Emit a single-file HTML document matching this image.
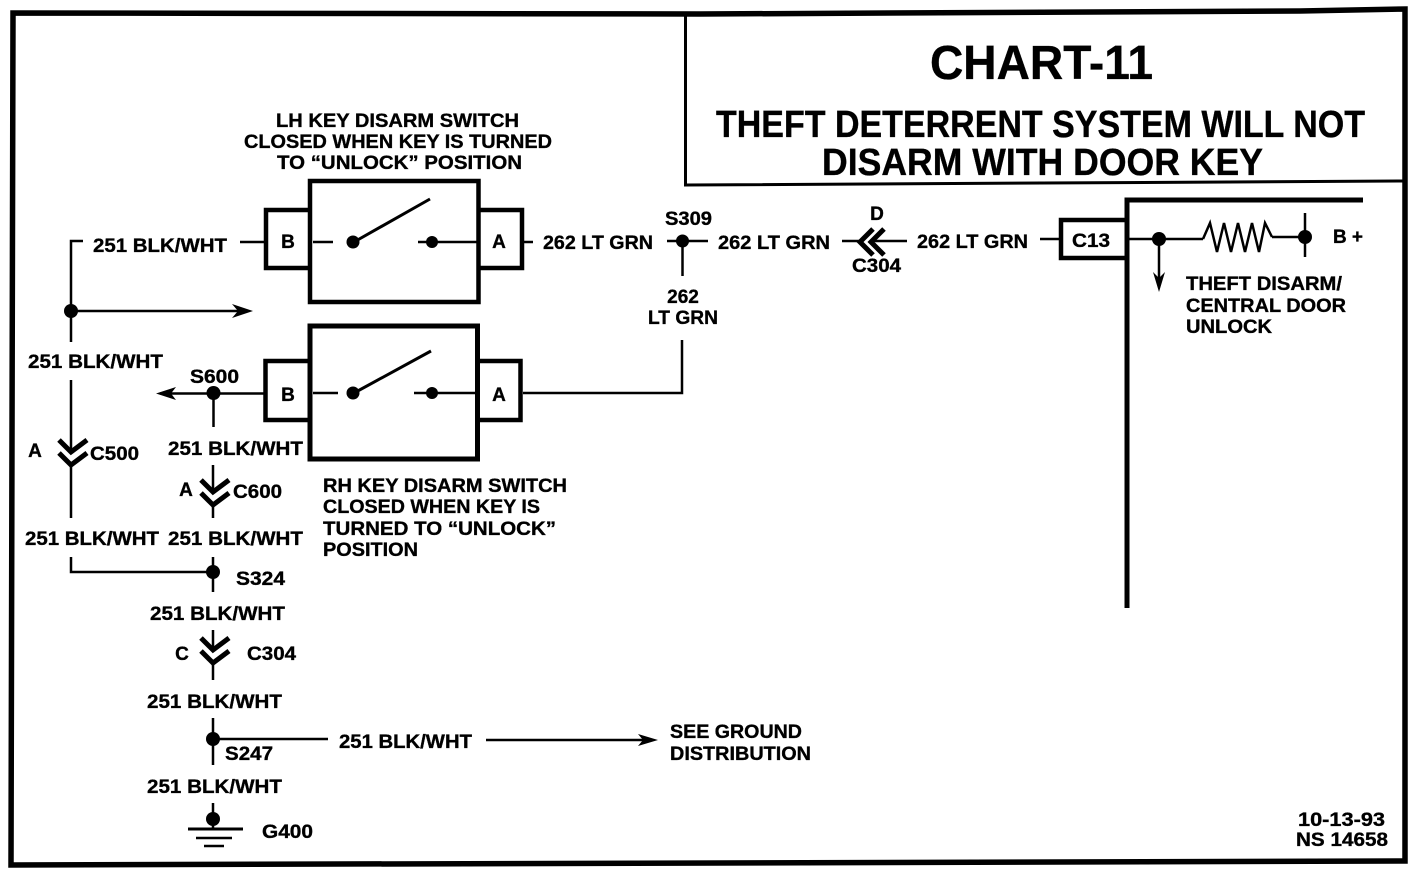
<!DOCTYPE html>
<html>
<head>
<meta charset="utf-8">
<style>
html,body{margin:0;padding:0;background:#fff;}
svg{display:block;}
text{font-family:"Liberation Sans",sans-serif;font-weight:bold;fill:#000;stroke:#000;stroke-width:.35px;font-size:19px;}
.m{text-anchor:middle;}
</style>
</head>
<body>
<svg width="1424" height="874" viewBox="0 0 1424 874" xmlns="http://www.w3.org/2000/svg">
<g fill="none" stroke="#000">
<path d="M13 13L700 14L1300 11L1405 9L1405 861L11 865Z" stroke-width="5.5"/>
<path d="M685.5 14V185L1405 181" stroke-width="3"/>
<!-- switches -->
<rect x="310" y="181" width="168.5" height="121" stroke-width="4.5"/>
<path d="M310 210H266V268H310M478 210H522V268H478" stroke-width="4.5"/>
<rect x="310" y="326" width="167.5" height="133" stroke-width="5"/>
<path d="M310 361H265.5V420H310M478 361H520.5V420H478" stroke-width="4.5"/>
<path d="M1127 220H1061V258H1127" stroke-width="4.5"/>
<path d="M1127 608V200H1363" stroke-width="5"/>
<g stroke-width="2.5">
<path d="M313 242H333M418 242H477"/>
<path d="M313 393H338M414 393H476"/>
<path d="M83 241H71V342M71 380V452M71 465V518M71 557V572H213M71 311H238"/>
<path d="M240 242H265M524 242H533M667 241H708M682.5 241V276M523 393H682V340"/>
<path d="M842 241H860M871 241H907M1040 239H1061M1129 239H1203M1272 237H1305"/>
<path d="M160 393.500H265M213.500 393V427M213 465V492M213 505V518M213 557V592M213 630V650M213 663V680M213 718V765M213 739H328M486 740H645M320 739H328"/>
<path d="M1159 239V280"/>
<path d="M1203 239L1210 223L1217 252L1224 223L1231 252L1238 223L1245 252L1252 223L1259 252L1265 223L1272 237"/>
<path d="M1305 213V257"/>
<path d="M213 803V828"/>
</g>
<path d="M354 242L430 199M354 393L431 351" stroke-width="3"/>
<path d="M188 829H243" stroke-width="3"/>
<path d="M196 838H232" stroke-width="2.500"/>
<path d="M204 846H224" stroke-width="2.500"/>
<g stroke-width="5">
<path d="M59 440L71 452L87 440M59 453L71 465L87 453"/>
<path d="M201 480L213 492L229 480M201 493L213 505L229 493"/>
<path d="M201 638L213 650L229 638M201 651L213 663L229 651"/>
<path d="M873 229L860 242L873 255M884 229L871 242L884 255"/>
</g>
</g>
<g fill="#000">
<circle cx="353" cy="242" r="6.500"/><circle cx="432" cy="242" r="6"/>
<circle cx="353" cy="393" r="6.500"/><circle cx="432" cy="393" r="6"/>
<circle cx="71" cy="311" r="7"/><circle cx="213.500" cy="393" r="7"/>
<circle cx="682.500" cy="241" r="6.500"/><circle cx="1159" cy="239" r="7"/>
<circle cx="1305" cy="237" r="7"/><circle cx="213" cy="572" r="7"/>
<circle cx="213" cy="739" r="7"/><circle cx="213" cy="819" r="7"/>
<path d="M253 311L232 304L238 311L232 318Z"/>
<path d="M156 393.500L176 387L171 393.500L176 400Z"/>
<path d="M1159 292L1153 272L1159 278L1165 272Z"/>
<path d="M658 740L638 734L643 740L638 746Z"/>
</g>
<text x="930" y="79" style="font-size:48px" textLength="223" lengthAdjust="spacingAndGlyphs">CHART-11</text>
<text x="716" y="137" style="font-size:38px" textLength="649" lengthAdjust="spacingAndGlyphs">THEFT DETERRENT SYSTEM WILL NOT</text>
<text x="822" y="175" style="font-size:38px" textLength="441" lengthAdjust="spacingAndGlyphs">DISARM WITH DOOR KEY</text>
<text x="276" y="127" textLength="243" lengthAdjust="spacingAndGlyphs">LH KEY DISARM SWITCH</text>
<text x="244" y="148" textLength="308" lengthAdjust="spacingAndGlyphs">CLOSED WHEN KEY IS TURNED</text>
<text x="277" y="169" textLength="245" lengthAdjust="spacingAndGlyphs">TO “UNLOCK” POSITION</text>
<text x="288" y="248" class="m">B</text><text x="499" y="248" class="m">A</text>
<text x="288" y="401" class="m">B</text><text x="499" y="401" class="m">A</text>
<text x="1072" y="247" textLength="38" lengthAdjust="spacingAndGlyphs">C13</text>
<text x="93" y="252" textLength="134" lengthAdjust="spacingAndGlyphs">251 BLK/WHT</text>
<text x="543" y="249" textLength="110" lengthAdjust="spacingAndGlyphs">262 LT GRN</text>
<text x="665" y="225" textLength="47" lengthAdjust="spacingAndGlyphs">S309</text>
<text x="718" y="249" textLength="112" lengthAdjust="spacingAndGlyphs">262 LT GRN</text>
<text x="877" y="220" class="m">D</text>
<text x="852" y="272" textLength="49" lengthAdjust="spacingAndGlyphs">C304</text>
<text x="917" y="248" textLength="111" lengthAdjust="spacingAndGlyphs">262 LT GRN</text>
<text x="683" y="303" class="m">262</text>
<text x="648" y="324" textLength="70" lengthAdjust="spacingAndGlyphs">LT GRN</text>
<text x="1333" y="243" textLength="30" lengthAdjust="spacingAndGlyphs">B +</text>
<text x="1186" y="290" textLength="156" lengthAdjust="spacingAndGlyphs">THEFT DISARM/</text>
<text x="1186" y="312" textLength="160" lengthAdjust="spacingAndGlyphs">CENTRAL DOOR</text>
<text x="1186" y="333" textLength="86" lengthAdjust="spacingAndGlyphs">UNLOCK</text>
<text x="28" y="368" textLength="135" lengthAdjust="spacingAndGlyphs">251 BLK/WHT</text>
<text x="190" y="383" textLength="49" lengthAdjust="spacingAndGlyphs">S600</text>
<text x="168" y="455" textLength="135" lengthAdjust="spacingAndGlyphs">251 BLK/WHT</text>
<text x="35" y="457" class="m">A</text>
<text x="90" y="460" textLength="49" lengthAdjust="spacingAndGlyphs">C500</text>
<text x="186" y="496" class="m">A</text>
<text x="233" y="498" textLength="49" lengthAdjust="spacingAndGlyphs">C600</text>
<text x="25" y="545" textLength="134" lengthAdjust="spacingAndGlyphs">251 BLK/WHT</text>
<text x="168" y="545" textLength="135" lengthAdjust="spacingAndGlyphs">251 BLK/WHT</text>
<text x="236" y="585" textLength="49" lengthAdjust="spacingAndGlyphs">S324</text>
<text x="150" y="620" textLength="135" lengthAdjust="spacingAndGlyphs">251 BLK/WHT</text>
<text x="182" y="660" class="m">C</text>
<text x="247" y="660" textLength="49" lengthAdjust="spacingAndGlyphs">C304</text>
<text x="147" y="708" textLength="135" lengthAdjust="spacingAndGlyphs">251 BLK/WHT</text>
<text x="225" y="760" textLength="48" lengthAdjust="spacingAndGlyphs">S247</text>
<text x="339" y="748" textLength="133" lengthAdjust="spacingAndGlyphs">251 BLK/WHT</text>
<text x="670" y="738" textLength="132" lengthAdjust="spacingAndGlyphs">SEE GROUND</text>
<text x="670" y="760" textLength="141" lengthAdjust="spacingAndGlyphs">DISTRIBUTION</text>
<text x="147" y="793" textLength="135" lengthAdjust="spacingAndGlyphs">251 BLK/WHT</text>
<text x="262" y="838" textLength="51" lengthAdjust="spacingAndGlyphs">G400</text>
<text x="323" y="492" textLength="244" lengthAdjust="spacingAndGlyphs">RH KEY DISARM SWITCH</text>
<text x="323" y="513" textLength="217" lengthAdjust="spacingAndGlyphs">CLOSED WHEN KEY IS</text>
<text x="323" y="535" textLength="233" lengthAdjust="spacingAndGlyphs">TURNED TO “UNLOCK”</text>
<text x="323" y="556" textLength="95" lengthAdjust="spacingAndGlyphs">POSITION</text>
<text x="1298" y="826" textLength="87" lengthAdjust="spacingAndGlyphs">10-13-93</text>
<text x="1296" y="846" textLength="92" lengthAdjust="spacingAndGlyphs">NS 14658</text>
</svg>
</body>
</html>
